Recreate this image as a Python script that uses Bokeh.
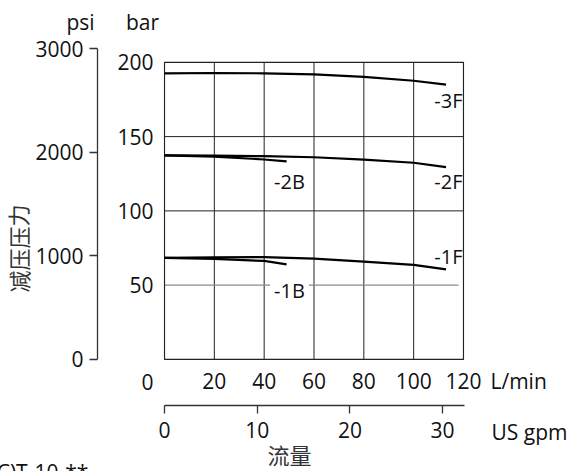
from bokeh.plotting import figure
from bokeh.models import LinearAxis, Range1d, FixedTicker, Label
from bokeh.core.properties import value
from bokeh.embed import file_html
from bokeh.resources import INLINE

# ---------------- data ----------------
flow_lmin_ticks = [20, 40, 60, 80, 100, 120]
flow_gpm_ticks = [0, 10, 20, 30]
bar_ticks = [50, 100, 150, 200]
psi_ticks = [0, 1000, 2000, 3000]
grid_x = [20, 40, 60, 80, 100]
grid_y_dark = [100, 150]
grid_y_light = [50]
X_MAX = 120
Y_MAX = 200

x_3F = [0, 20, 40, 60, 80, 100, 113]
y_3F = [192.6, 192.8, 192.6, 191.9, 190.2, 187.6, 185.0]
x_2F = [0, 20, 40, 60, 80, 100, 113]
y_2F = [137.3, 137.2, 136.8, 136.1, 134.5, 132.4, 129.5]
x_2B = [0, 20, 40, 49]
y_2B = [137.3, 136.5, 134.6, 133.3]
x_1F = [0, 20, 40, 60, 80, 100, 113]
y_1F = [68.4, 68.7, 68.9, 67.9, 65.9, 63.7, 60.6]
x_1B = [0, 20, 40, 49]
y_1B = [68.4, 67.7, 66.3, 64.0]

series = [("-3F", x_3F, y_3F), ("-2F", x_2F, y_2F), ("-2B", x_2B, y_2B),
          ("-1F", x_1F, y_1F), ("-1B", x_1B, y_1B)]

# ---------------- geometry ----------------
FONT = "Open Sans"
NUM_SIZE = "21px"
INK = "#111111"

X0, X1 = -0.4, 120.4          # frame 301 px wide
Y0, Y1 = -0.7, 209.3          # frame 312 px tall
FRAME_W, FRAME_H = 301, 312
PX_X = FRAME_W / (X1 - X0)
PX_Y = FRAME_H / (Y1 - Y0)
LEFT, TOP = 163, 48
ORIGIN_X = LEFT + (0 - X0) * PX_X      # page x of 0 L/min
ORIGIN_Y = TOP + Y1 * PX_Y             # page y of 0 bar
BASE_FIX = 6                           # alphabetic baseline correction

p = figure(width=572, height=471,
           x_range=Range1d(X0, X1), y_range=Range1d(Y0, Y1),
           x_axis_type=None, y_axis_type=None,
           toolbar_location=None, output_backend="svg",
           min_border_left=LEFT, min_border_right=572 - LEFT - FRAME_W,
           min_border_top=TOP, min_border_bottom=471 - TOP - FRAME_H)
p.outline_line_color = None
p.background_fill_color = "white"
p.border_fill_color = "white"

psi_per_px = 3000 / (ORIGIN_Y - TOP)
p.extra_y_ranges = {"psi": Range1d(-(FRAME_H - (ORIGIN_Y - TOP)) * psi_per_px, 3000)}
gpm_px = 9.27
g0 = -(ORIGIN_X - LEFT) / gpm_px
p.extra_x_ranges = {"gpm": Range1d(g0, g0 + FRAME_W / gpm_px)}

# bar axis (nearest the frame)
bar_axis = LinearAxis(ticker=FixedTicker(ticks=bar_ticks))
bar_axis.axis_line_color = None
bar_axis.major_tick_line_color = None
bar_axis.minor_tick_line_color = None
bar_axis.major_label_standoff = 4
bar_axis.major_label_text_font = FONT
bar_axis.major_label_text_font_size = NUM_SIZE
bar_axis.major_label_text_color = INK
bar_axis.axis_label = "\u00a0"
bar_axis.axis_label_standoff = 5
bar_axis.axis_label_text_font_size = "8px"
p.add_layout(bar_axis, "left")

# psi axis
psi_axis = LinearAxis(y_range_name="psi", ticker=FixedTicker(ticks=psi_ticks), bounds=(0, 3000))
psi_axis.axis_line_color = "#333333"
psi_axis.axis_line_width = 1.3
psi_axis.major_tick_line_color = "#333333"
psi_axis.major_tick_line_width = 1.3
psi_axis.major_tick_out = 8
psi_axis.major_tick_in = 0
psi_axis.minor_tick_line_color = None
psi_axis.major_label_standoff = 6
psi_axis.major_label_text_font = FONT
psi_axis.major_label_text_font_size = NUM_SIZE
psi_axis.major_label_text_color = INK
p.add_layout(psi_axis, "left")

# L/min axis
lmin_axis = LinearAxis(ticker=FixedTicker(ticks=flow_lmin_ticks))
lmin_axis.axis_line_color = None
lmin_axis.major_tick_line_color = None
lmin_axis.minor_tick_line_color = None
lmin_axis.major_label_standoff = 6
lmin_axis.major_label_text_font = FONT
lmin_axis.major_label_text_font_size = NUM_SIZE
lmin_axis.major_label_text_color = INK
lmin_axis.axis_label = "\u00a0"
lmin_axis.axis_label_standoff = 0
lmin_axis.axis_label_text_font_size = "10px"
p.add_layout(lmin_axis, "below")

# gpm axis
gpm_axis = LinearAxis(x_range_name="gpm", ticker=FixedTicker(ticks=flow_gpm_ticks),
                      bounds=(0, g0 + FRAME_W / gpm_px))
gpm_axis.axis_line_color = "#333333"
gpm_axis.axis_line_width = 1.3
gpm_axis.major_tick_line_color = "#333333"
gpm_axis.major_tick_line_width = 1.3
gpm_axis.major_tick_out = 8
gpm_axis.major_tick_in = 0
gpm_axis.minor_tick_line_color = None
gpm_axis.major_label_standoff = 8
gpm_axis.major_label_text_font = FONT
gpm_axis.major_label_text_font_size = NUM_SIZE
gpm_axis.major_label_text_color = INK
p.add_layout(gpm_axis, "below")

# grid lines inside the box
p.segment(x0=grid_x, x1=grid_x, y0=[0] * len(grid_x), y1=[Y_MAX] * len(grid_x),
          line_color="#222222", line_width=1)
p.segment(x0=[0] * len(grid_y_dark), x1=[X_MAX] * len(grid_y_dark),
          y0=grid_y_dark, y1=grid_y_dark, line_color="#222222", line_width=1)
p.segment(x0=[0] * len(grid_y_light), x1=[X_MAX - 2] * len(grid_y_light),
          y0=grid_y_light, y1=grid_y_light, line_color="#8a8a8a", line_width=1.2)

# box
p.quad(left=[0], right=[X_MAX], bottom=[0], top=[Y_MAX], fill_color=None,
       line_color="#222222", line_width=1.2)

# curves
for name, xs, ys in series:
    p.line(xs, ys, line_color="black", line_width=2.2)


def dx(px):
    return (px - ORIGIN_X) / PX_X


def dy(py):
    return (ORIGIN_Y - py) / PX_Y


def txt(text, px, py, align="center", baseline="alphabetic", size=NUM_SIZE,
        font=FONT, color=INK, angle=0.0):
    if baseline == "alphabetic":
        py = py - BASE_FIX
    p.text(x=[dx(px)], y=[dy(py)], text=[text], text_align=align,
           text_baseline=baseline, text_font=value(font),
           text_font_size=value(size), text_color=color, angle=angle,
           level="overlay")


# curve labels
txt("-3F", 462, 106, align="right", size="20px")
txt("-2F", 462, 187, align="right", size="20px")
txt("-2B", 289, 187, size="20px")
txt("-1F", 462, 262, align="right", size="20px")
p.add_layout(Label(x=dx(289), y=dy(296 - BASE_FIX), text="-1B", text_align="center",
                   text_baseline="alphabetic", text_font=FONT, text_font_size="20px",
                   text_color=INK, background_fill_color="white", padding=4))

# unit labels / titles outside the frame
txt("psi", 80, 27)
txt("bar", 142, 27)
txt("0", 147, 387)
txt("L/min", 490, 386, align="left")
txt("US gpm", 491, 437, align="left")
txt("流量", 289, 453, baseline="middle", size="22px", font="Noto Sans CJK SC", color="#333333")
txt("减压压力", 17, 248, baseline="middle", size="22px", font="Noto Sans CJK SC",
    color="#333333", angle=1.5708)
txt("(C)T-10-**", -10, 477, align="left")

open("out.html", "w").write(file_html(p, INLINE))
